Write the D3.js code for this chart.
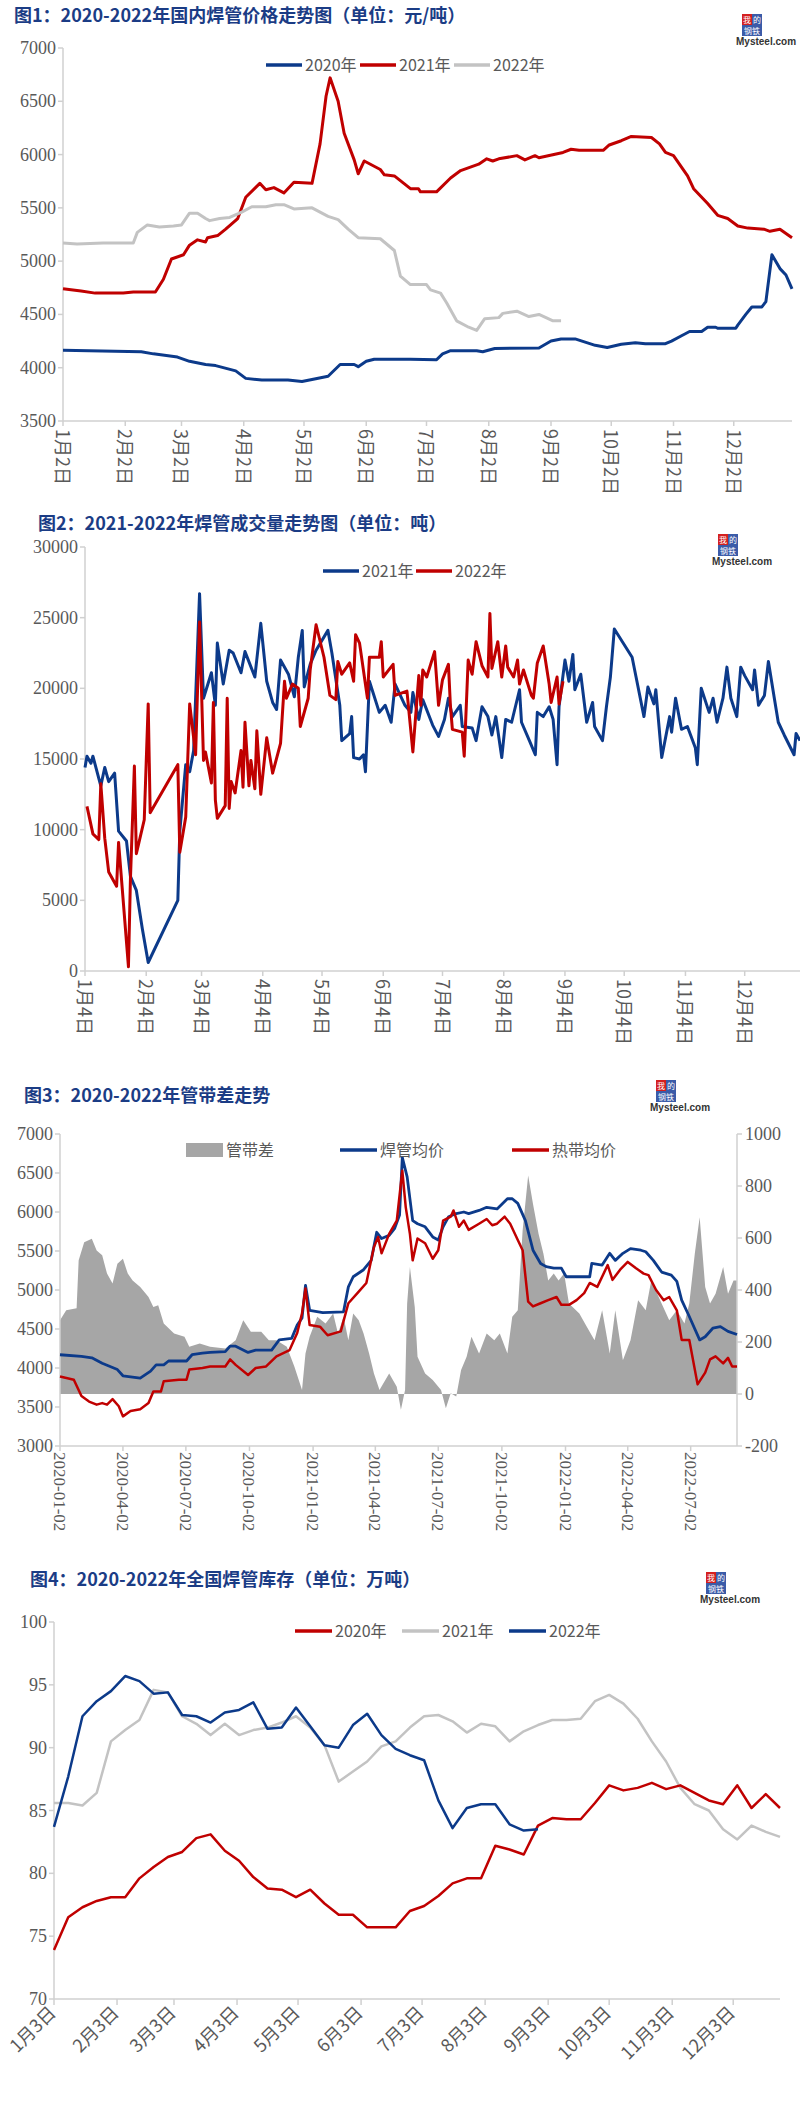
<!DOCTYPE html>
<html><head><meta charset="utf-8">
<script src="https://cdn.jsdelivr.net/npm/d3@7"></script>
<style>body{margin:0;background:#fff}svg{display:block}</style>
</head><body>
<svg id="c" width="800" height="2127"></svg>
<script>
// ---------- Chart 1 data: day offset from Jan 2, price ----------
const c1_2020 = [[0,4165],[39,4150],[45,4130],[57,4100],[63,4060],[71,4030],[76,4020],[86,3970],[91,3900],[99,3885],[112,3885],[119,3870],[124,3890],[132,3920],[138,4030],[145,4030],[147,4010],[151,4060],[155,4080],[173,4080],[186,4075],[189,4130],[193,4160],[206,4160],[209,4150],[215,4180],[237,4185],[243,4250],[248,4270],[255,4270],[260,4240],[265,4210],[271,4190],[278,4220],[285,4235],[290,4225],[300,4225],[303,4250],[308,4300],[312,4340],[318,4340],[321,4380],[325,4380],[326,4370],[335,4370],[336,4400],[340,4500],[343,4570],[348,4570],[350,4620],[353,5060],[357,4930],[360,4870],[363,4740]];
const c1_2021 = [[0,4740],[9,4720],[16,4700],[30,4700],[35,4710],[46,4710],[50,4830],[54,5020],[60,5060],[63,5150],[67,5200],[71,5180],[72,5220],[77,5240],[81,5300],[87,5400],[91,5600],[98,5730],[101,5670],[105,5690],[110,5640],[115,5740],[124,5730],[128,6100],[131,6550],[133,6720],[137,6500],[140,6200],[145,5950],[147,5820],[150,5940],[158,5860],[160,5810],[165,5800],[173,5680],[177,5680],[178,5650],[186,5650],[193,5780],[198,5850],[207,5910],[211,5960],[214,5940],[217,5960],[226,5990],[230,5950],[235,5990],[237,5970],[249,6020],[253,6050],[257,6040],[269,6040],[272,6090],[278,6130],[283,6170],[293,6160],[297,6100],[300,6020],[304,5990],[311,5800],[314,5680],[321,5540],[326,5430],[331,5400],[336,5330],[341,5310],[349,5300],[352,5280],[357,5300],[360,5260],[363,5220]];
const c1_2022 = [[0,5170],[7,5160],[20,5170],[35,5170],[37,5270],[42,5340],[48,5320],[55,5330],[59,5340],[63,5450],[67,5450],[71,5400],[73,5380],[78,5400],[83,5410],[89,5460],[94,5510],[101,5510],[106,5530],[110,5530],[115,5490],[124,5500],[132,5420],[137,5390],[142,5300],[147,5220],[158,5210],[165,5100],[168,4860],[173,4780],[181,4780],[183,4730],[188,4700],[191,4610],[196,4440],[202,4380],[206,4350],[210,4460],[217,4470],[219,4510],[226,4530],[232,4480],[237,4500],[244,4440],[248,4440]];
const c1_ticks = [3500,4000,4500,5000,5500,6000,6500,7000];

// ---------- Chart 2 data: day offset from Jan 4, tons ----------
const c2_2021 = [[0,14400],[1,15200],[3,14700],[4,15200],[8,13100],[10,14400],[12,13400],[15,14000],[17,9900],[21,9200],[23,6700],[26,5700],[29,3000],[32,600],[47,5000],[48,9900],[51,14600],[53,14100],[55,15600],[58,26700],[60,19300],[64,21100],[66,18800],[67,23200],[70,20300],[73,22700],[75,22500],[79,21100],[81,22600],[86,20800],[89,24600],[92,20500],[95,19000],[97,18500],[99,22000],[103,21000],[106,19400],[108,22200],[110,24100],[111,20100],[114,21700],[117,22700],[123,24100],[125,22500],[129,18800],[130,16300],[134,16800],[135,18000],[136,15100],[139,15000],[141,15300],[142,14100],[144,20500],[149,18300],[152,18800],[155,17600],[157,20300],[162,18800],[165,18300],[166,19700],[169,17800],[171,19200],[176,17400],[179,16600],[182,17800],[184,19300],[186,18000],[190,18800],[191,17300],[196,17200],[198,16300],[201,18700],[204,18000],[206,16700],[208,18000],[211,15100],[213,17800],[216,17600],[220,19900],[221,17600],[225,16300],[228,15300],[229,18300],[232,18000],[235,18700],[237,17800],[239,14600],[240,18700],[243,22000],[245,20500],[247,22400],[248,19900],[251,21000],[254,17600],[257,19000],[258,17300],[262,16300],[264,18700],[266,20800],[268,24200],[277,22200],[279,20800],[283,18000],[285,20100],[288,18900],[289,19900],[292,15100],[296,18000],[297,16900],[299,19300],[302,17100],[305,17300],[309,15800],[310,14600],[312,20000],[316,18300],[318,19300],[320,17600],[323,19300],[325,21500],[327,19300],[330,18000],[332,21500],[334,20900],[338,19900],[339,21300],[341,18800],[344,19500],[346,21900],[349,19300],[351,17600],[354,16700],[359,15300],[360,16800],[362,16300]];
const c2_2022 = [[1,11650],[4,9700],[7,9300],[8,13250],[10,9400],[12,7000],[16,6000],[17,9100],[22,300],[23,6500],[25,14500],[26,8300],[30,10700],[32,18900],[33,11200],[47,14600],[48,8400],[51,10900],[53,18900],[56,15300],[58,24700],[60,14900],[61,15500],[64,13300],[65,19000],[66,12100],[67,10800],[71,11700],[72,19300],[73,11500],[74,13400],[76,12600],[79,15600],[80,13000],[81,17600],[83,13100],[84,14900],[86,12900],[87,17000],[89,12500],[92,16500],[95,14000],[99,16100],[101,20500],[102,19300],[105,20300],[108,20000],[109,17300],[113,19300],[114,21300],[117,24500],[121,22200],[124,19500],[127,19200],[128,21900],[130,21000],[134,21800],[136,20500],[137,23800],[139,23200],[143,19300],[144,22200],[149,22200],[150,23300],[151,20800],[156,21700],[157,19500],[163,19800],[166,15500],[169,20900],[170,18800],[171,21300],[173,20800],[177,22600],[179,18800],[181,20600],[184,21700],[185,18800],[186,17100],[191,16900],[192,15200],[194,22000],[196,21000],[198,23300],[201,21600],[204,20800],[205,25300],[206,21400],[209,23300],[211,20800],[213,23000],[214,21500],[217,20800],[219,22000],[220,20300],[222,21300],[226,19500],[227,19300],[229,21800],[232,23000],[235,20300],[236,19000],[239,20800],[240,18900],[242,20500]];
const c2_ticks = [0,5000,10000,15000,20000,25000,30000];

// ---------- Chart 3 data: day offset from 2020-01-02 ----------
const c3_pipe = [[0,4170],[31,4150],[46,4130],[61,4060],[83,3980],[91,3900],[116,3870],[131,3960],[139,4040],[150,4040],[157,4090],[183,4090],[191,4170],[206,4190],[217,4200],[239,4210],[246,4280],[254,4280],[272,4200],[283,4230],[306,4230],[317,4360],[335,4380],[343,4550],[350,4640],[355,5060],[361,4740],[380,4710],[410,4720],[417,5040],[424,5170],[439,5260],[450,5380],[458,5740],[465,5660],[476,5700],[484,5790],[491,5960],[495,6700],[502,6450],[510,5890],[517,5850],[528,5810],[539,5680],[547,5640],[554,5810],[562,5940],[573,5980],[584,6000],[591,5980],[606,6020],[617,6060],[632,6040],[647,6170],[654,6170],[662,6110],[673,5890],[684,5510],[695,5340],[703,5300],[714,5280],[725,5280],[732,5170],[766,5170],[769,5340],[784,5320],[795,5470],[803,5380],[814,5470],[825,5530],[840,5510],[847,5490],[858,5380],[870,5230],[884,5190],[892,5110],[899,4870],[910,4660],[925,4360],[933,4400],[944,4510],[955,4530],[966,4470],[979,4430]];
const c3_strip = [[0,3890],[20,3850],[31,3640],[42,3570],[53,3530],[61,3550],[68,3530],[76,3600],[85,3510],[91,3380],[102,3450],[116,3470],[128,3550],[135,3700],[146,3700],[150,3830],[172,3850],[183,3850],[187,3980],[206,4000],[217,4020],[239,4020],[246,4110],[254,4040],[272,3910],[283,4000],[298,4020],[313,4150],[332,4230],[343,4450],[350,4700],[355,5020],[361,4550],[376,4530],[387,4420],[406,4470],[417,4830],[432,4980],[443,5090],[454,5550],[460,5680],[465,5470],[476,5720],[487,5890],[495,6530],[500,6060],[506,5720],[510,5380],[517,5660],[528,5600],[539,5400],[547,5510],[554,5890],[565,5940],[569,6020],[577,5810],[584,5890],[591,5770],[606,5850],[617,5910],[625,5830],[632,5850],[643,5940],[651,5850],[662,5640],[669,5510],[677,4850],[684,4790],[695,4830],[706,4870],[718,4910],[725,4810],[736,4810],[747,4870],[758,4960],[766,5090],[777,5040],[792,5320],[799,5130],[810,5260],[821,5360],[833,5280],[844,5210],[851,5190],[862,5000],[873,4870],[881,4910],[892,4740],[899,4360],[910,4360],[922,3790],[933,3940],[940,4110],[948,4150],[959,4060],[966,4130],[972,4020],[979,4020]];
const c3_diff = [[0,284],[9,322],[24,330],[27,514],[35,584],[46,597],[53,552],[61,534],[68,463],[76,425],[83,501],[91,520],[98,463],[105,437],[116,412],[128,373],[135,335],[142,341],[150,271],[165,233],[180,220],[187,182],[202,194],[217,182],[239,175],[254,207],[265,284],[276,239],[291,239],[302,207],[313,207],[328,182],[339,105],[350,15],[355,156],[361,220],[372,297],[384,271],[395,310],[402,233],[410,297],[417,207],[424,310],[432,284],[439,233],[447,156],[454,79],[462,15],[476,79],[487,28],[493,-61],[499,15],[502,348],[506,488],[513,335],[517,143],[528,79],[539,54],[551,15],[558,-55],[565,3],[573,-10],[580,92],[588,143],[595,220],[606,156],[617,233],[628,207],[636,233],[647,156],[654,297],[662,322],[669,629],[677,840],[684,731],[692,616],[699,540],[706,437],[714,463],[721,437],[729,463],[736,348],[751,310],[762,258],[773,207],[784,322],[795,156],[803,322],[814,130],[825,207],[836,361],[847,322],[855,437],[870,348],[881,284],[892,322],[903,271],[910,348],[918,540],[925,680],[933,412],[940,348],[948,386],[959,488],[966,386],[974,437],[979,437]];
const c3_ticksL = [3000,3500,4000,4500,5000,5500,6000,6500,7000];
const c3_ticksR = [-200,0,200,400,600,800,1000];
const c3_dates = ["2020-01-02","2020-04-02","2020-07-02","2020-10-02","2021-01-02","2021-04-02","2021-07-02","2021-10-02","2022-01-02","2022-04-02","2022-07-02"];

// ---------- Chart 4 data: weekly from Jan 3, 万吨 ----------
const c4_2020 = [73.9,76.5,77.3,77.8,78.1,78.1,79.6,80.5,81.3,81.7,82.8,83.1,81.8,81.0,79.7,78.8,78.7,78.1,78.7,77.6,76.7,76.7,75.7,75.7,75.7,77.0,77.4,78.2,79.2,79.6,79.6,82.2,81.9,81.5,83.8,84.4,84.3,84.3,85.6,87.0,86.6,86.8,87.2,86.7,87.0,86.4,85.8,85.5,87.0,85.2,86.3,85.2];
const c4_2021 = [85.6,85.6,85.4,86.4,90.5,91.4,92.2,94.6,94.4,92.5,91.9,91.0,91.9,91.0,91.4,91.6,92.0,92.5,91.6,90.2,87.3,88.1,88.9,90.1,90.5,91.6,92.5,92.6,92.1,91.2,91.9,91.7,90.5,91.3,91.8,92.2,92.2,92.3,93.7,94.2,93.5,92.3,90.5,88.9,86.8,85.5,85.0,83.5,82.7,83.8,83.3,82.9];
const c4_2022 = [83.7,87.7,92.5,93.7,94.5,95.7,95.3,94.3,94.4,92.6,92.5,92.0,92.8,93.0,93.6,91.5,91.6,93.2,91.7,90.2,90.0,91.8,92.7,91.0,89.9,89.4,89.0,85.8,83.6,85.2,85.5,85.5,83.9,83.4,83.5];
const c4_ticks = [70,75,80,85,90,95,100];

// ---------- helpers ----------
const svg = d3.select("#c");
const BLUE="#0c3a8a", RED="#c00000", LGRAY="#c3c3c3", AX="#d0d0d0", TXT="#595959", TITLE="#1b3c85";
const NUMF = "'Liberation Serif', serif";
const CJK = "'Noto Sans CJK SC', sans-serif";

function title(t,x,y){
  svg.append("text").attr("x",x).attr("y",y).attr("fill",TITLE)
    .attr("font-family",CJK).attr("font-weight","bold").attr("font-size",18).text(t);
}
function logo(x,y){
  const g=svg.append("g").attr("transform",`translate(${x},${y})`);
  g.append("rect").attr("x",6).attr("y",0).attr("width",10).attr("height",11).attr("fill","#d42020");
  g.append("rect").attr("x",16).attr("y",0).attr("width",10).attr("height",11).attr("fill","#3b5ba8");
  g.append("rect").attr("x",6).attr("y",11).attr("width",20).attr("height",11).attr("fill","#3b5ba8");
  g.append("text").attr("x",11).attr("y",9).attr("text-anchor","middle").attr("font-size",8).attr("fill","#fff").attr("font-family",CJK).text("我");
  g.append("text").attr("x",21).attr("y",9).attr("text-anchor","middle").attr("font-size",8).attr("fill","#fff").attr("font-family",CJK).text("的");
  g.append("text").attr("x",16).attr("y",20).attr("text-anchor","middle").attr("font-size",8).attr("fill","#fff").attr("font-family",CJK).text("钢铁");
  g.append("text").attr("x",0).attr("y",31).attr("font-size",10).attr("font-weight","bold").attr("fill","#333").attr("font-family","'Liberation Sans Narrow','Liberation Sans',sans-serif").text("Mysteel.com");
}
function legend(items,y){
  items.forEach(it=>{
    if(it.area){
      svg.append("rect").attr("x",it.x).attr("y",y-7).attr("width",it.w).attr("height",14).attr("fill",it.c);
    } else {
      svg.append("line").attr("x1",it.x).attr("x2",it.x+it.w).attr("y1",y).attr("y2",y).attr("stroke",it.c).attr("stroke-width",3.5);
    }
    svg.append("text").attr("x",it.x+it.w+3).attr("y",y+6).attr("fill",TXT).attr("font-size",it.fs||16)
      .attr("font-family",CJK).text(it.t);
  });
}
function yAxisLeft(y,x,ticks){
  svg.append("line").attr("x1",x).attr("x2",x).attr("y1",y.range()[1]).attr("y2",y.range()[0]).attr("stroke",AX).attr("stroke-width",1.5);
  ticks.forEach(t=>{
    svg.append("line").attr("x1",x-5).attr("x2",x).attr("y1",y(t)).attr("y2",y(t)).attr("stroke",AX).attr("stroke-width",1.5);
    svg.append("text").attr("x",x-7).attr("y",y(t)+6).attr("text-anchor","end").attr("fill",TXT)
      .attr("font-family",NUMF).attr("font-size",18).text(t);
  });
}
function xAxisBottom(yb,x0,x1){
  svg.append("line").attr("x1",x0).attr("x2",x1).attr("y1",yb).attr("y2",yb).attr("stroke",AX).attr("stroke-width",1.5);
}
function lineOf(x,y){ return d3.line().x(d=>x(d[0])).y(d=>y(d[1])); }
function draw(data,x,y,color,w){
  svg.append("path").datum(data).attr("d",lineOf(x,y)).attr("fill","none").attr("stroke",color)
    .attr("stroke-width",w||3).attr("stroke-linejoin","round");
}
const DAY = d3.timeDay;
function monthTicks(dayNum){
  const base = new Date(2021,0,dayNum);
  return d3.range(12).map(m=>({m:m+1, off:DAY.count(base,new Date(2021,m,dayNum))}));
}
function rotLabels(ticks,x,yb,suffix){
  ticks.forEach(t=>{
    svg.append("line").attr("x1",x(t.off)).attr("x2",x(t.off)).attr("y1",yb).attr("y2",yb+5).attr("stroke",AX).attr("stroke-width",1.5);
    svg.append("text").attr("transform",`translate(${x(t.off)-7},${yb+8}) rotate(90)`)
      .attr("fill",TXT).attr("font-family",CJK).attr("font-size",18).text(t.m+"月"+suffix);
  });
}

// ================= Chart 1 =================
title("图1：2020-2022年国内焊管价格走势图（单位：元/吨）",14,22);
logo(736,14);
{
  const x=d3.scaleLinear().domain([0,363]).range([63,792]);
  const y=d3.scaleLinear().domain([3500,7000]).range([421,48]);
  yAxisLeft(y,63,c1_ticks);
  xAxisBottom(421,63,792);
  rotLabels(monthTicks(2),x,421,"2日");
  draw(c1_2020,x,y,BLUE); draw(c1_2021,x,y,RED); draw(c1_2022,x,y,LGRAY);
  legend([{x:266,w:36,c:BLUE,t:"2020年"},{x:360,w:36,c:RED,t:"2021年"},{x:454,w:36,c:LGRAY,t:"2022年"}],65);
}

// ================= Chart 2 =================
title("图2：2021-2022年焊管成交量走势图（单位：吨）",38,530);
logo(712,534);
{
  const x=d3.scaleLinear().domain([0,362]).range([85,800]);
  const y=d3.scaleLinear().domain([0,30000]).range([971,547]);
  yAxisLeft(y,85,c2_ticks);
  xAxisBottom(971,85,800);
  rotLabels(monthTicks(4),x,971,"4日");
  draw(c2_2021,x,y,BLUE); draw(c2_2022,x,y,RED);
  legend([{x:323,w:36,c:BLUE,t:"2021年"},{x:416,w:36,c:RED,t:"2022年"}],571);
}

// ================= Chart 3 =================
title("图3：2020-2022年管带差走势",24,1102);
logo(650,1080);
{
  const base=new Date(2020,0,2);
  const xd=d3.scaleLinear().domain([0,979]).range([60,737]);
  const yL=d3.scaleLinear().domain([3000,7000]).range([1446,1134]);
  const yR=d3.scaleLinear().domain([-200,1000]).range([1446,1134]);
  svg.append("path").datum(c3_diff)
    .attr("d",d3.area().x(d=>xd(d[0])).y0(yR(0)).y1(d=>yR(d[1])))
    .attr("fill","#a6a6a6");
  yAxisLeft(yL,60,c3_ticksL);
  svg.append("line").attr("x1",737).attr("x2",737).attr("y1",1134).attr("y2",1446).attr("stroke",AX).attr("stroke-width",1.5);
  c3_ticksR.forEach(t=>{
    svg.append("line").attr("x1",737).attr("x2",742).attr("y1",yR(t)).attr("y2",yR(t)).attr("stroke",AX).attr("stroke-width",1.5);
    svg.append("text").attr("x",745).attr("y",yR(t)+6).attr("fill",TXT).attr("font-family",NUMF).attr("font-size",18).text(t);
  });
  xAxisBottom(1446,60,737);
  c3_dates.forEach(ds=>{
    const p=ds.split("-").map(Number);
    const off=DAY.count(base,new Date(p[0],p[1]-1,p[2]));
    svg.append("line").attr("x1",xd(off)).attr("x2",xd(off)).attr("y1",1446).attr("y2",1451).attr("stroke",AX).attr("stroke-width",1.5);
    svg.append("text").attr("transform",`translate(${xd(off)-6},${1452}) rotate(90)`)
      .attr("fill",TXT).attr("font-family",NUMF).attr("font-size",17).text(ds);
  });
  draw(c3_pipe,xd,yL,BLUE,2.8); draw(c3_strip,xd,yL,RED,2.5);
  legend([{x:186,w:37,c:"#a6a6a6",t:"管带差",area:true},{x:340,w:37,c:BLUE,t:"焊管均价"},{x:512,w:37,c:RED,t:"热带均价"}],1150);
}

// ================= Chart 4 =================
title("图4：2020-2022年全国焊管库存（单位：万吨）",30,1586);
logo(700,1572);
{
  const x=d3.scaleLinear().domain([0,357]).range([54,780]);
  const y=d3.scaleLinear().domain([70,100]).range([1999,1622]);
  yAxisLeft(y,54,c4_ticks);
  xAxisBottom(1999,54,780);
  monthTicks(3).forEach(t=>{
    svg.append("line").attr("x1",x(t.off)).attr("x2",x(t.off)).attr("y1",1999).attr("y2",2005).attr("stroke",AX).attr("stroke-width",1.5);
    svg.append("text").attr("transform",`translate(${x(t.off)+3},${2014}) rotate(-45)`).attr("text-anchor","end")
      .attr("fill",TXT).attr("font-family",CJK).attr("font-size",18).text(t.m+"月3日");
  });
  const wk=a=>a.map((v,i)=>[i*7,v]);
  draw(wk(c4_2021),x,y,LGRAY,2.5); draw(wk(c4_2020),x,y,RED,2.5); draw(wk(c4_2022),x,y,BLUE,2.5);
  legend([{x:295,w:37,c:RED,t:"2020年"},{x:402,w:37,c:LGRAY,t:"2021年"},{x:509,w:37,c:BLUE,t:"2022年"}],1631);
}
</script>
</body></html>
